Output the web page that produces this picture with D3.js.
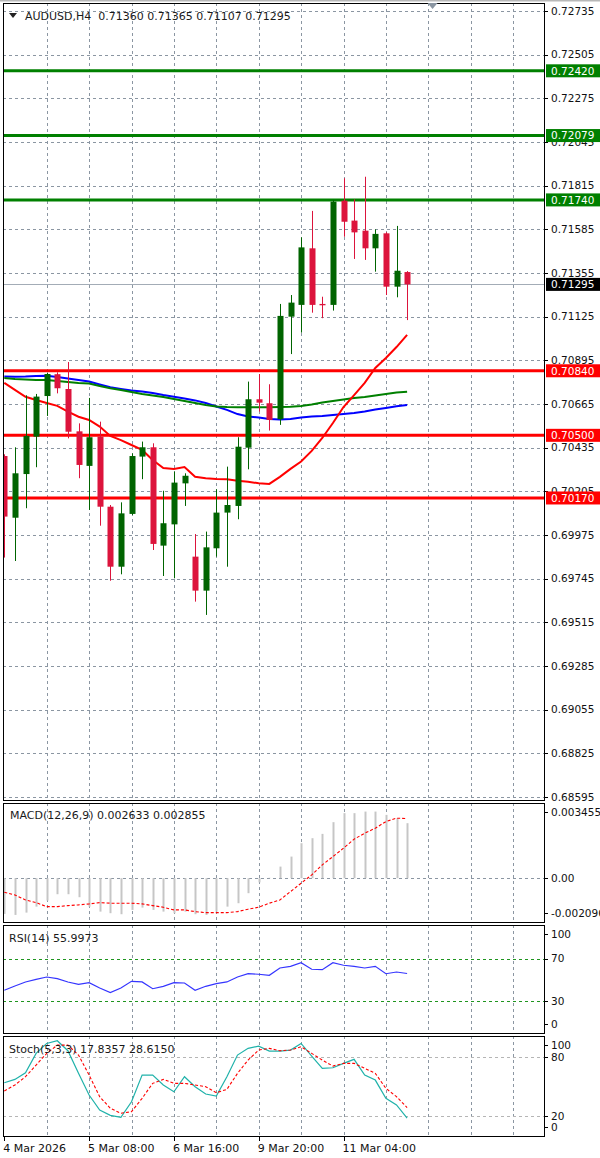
<!DOCTYPE html>
<html>
<head>
<meta charset="utf-8">
<script src="https://cdn.jsdelivr.net/npm/d3@7"></script>
<style>
  html, body { margin: 0; padding: 0; background: #fff; }
  svg { display: block; font-family: "DejaVu Sans", sans-serif; }
</style>
</head>
<body>
<svg id="chart" width="600" height="1158"></svg>
<script>
// AUDUSD H4 candles
const opens  = [0.70391, 0.70066, 0.70296, 0.70493, 0.70707, 0.70822, 0.70744, 0.70521, 0.70339, 0.70493, 0.70124, 0.69808, 0.70086, 0.70388, 0.70437, 0.69919, 0.70031, 0.70247, 0.69861, 0.69682, 0.69905, 0.70093, 0.70128, 0.70435, 0.70690, 0.70669, 0.70585, 0.71125, 0.71187, 0.71485, 0.71192, 0.71187, 0.71736, 0.71631, 0.71578, 0.71485, 0.71564, 0.71283, 0.71360]
const highs  = [0.70400, 0.70437, 0.70711, 0.70718, 0.70830, 0.70832, 0.70886, 0.70563, 0.70697, 0.70572, 0.70133, 0.70147, 0.70405, 0.70467, 0.70458, 0.70208, 0.70309, 0.70300, 0.69980, 0.69993, 0.70216, 0.70335, 0.70490, 0.70783, 0.70823, 0.70769, 0.71192, 0.71239, 0.71543, 0.71682, 0.71230, 0.71740, 0.71854, 0.71743, 0.71862, 0.71585, 0.71570, 0.71603, 0.71365]
const lows   = [0.69856, 0.69838, 0.70116, 0.70332, 0.70602, 0.70721, 0.70484, 0.70274, 0.70107, 0.70024, 0.69734, 0.69768, 0.70080, 0.70269, 0.69896, 0.69759, 0.69747, 0.70128, 0.69624, 0.69554, 0.69861, 0.69808, 0.70058, 0.70321, 0.70625, 0.70525, 0.70555, 0.70928, 0.71041, 0.71146, 0.71117, 0.71157, 0.71546, 0.71429, 0.71424, 0.71362, 0.71239, 0.71227, 0.71107]
const closes = [0.70072, 0.70300, 0.70497, 0.70704, 0.70823, 0.70748, 0.70519, 0.70344, 0.70490, 0.70124, 0.69808, 0.70089, 0.70391, 0.70437, 0.69928, 0.70037, 0.70251, 0.70287, 0.69682, 0.69910, 0.70093, 0.70133, 0.70440, 0.70690, 0.70672, 0.70581, 0.71129, 0.71199, 0.71490, 0.71187, 0.71185, 0.71731, 0.71625, 0.71569, 0.71485, 0.71561, 0.71283, 0.71367, 0.71295]

// moving averages
const maRed   = [0.70776, 0.70739, 0.70703, 0.70686, 0.70670, 0.70655, 0.70625, 0.70598, 0.70581, 0.70546, 0.70497, 0.70475, 0.70449, 0.70423, 0.70370, 0.70328, 0.70323, 0.70333, 0.70282, 0.70274, 0.70270, 0.70268, 0.70261, 0.70256, 0.70247, 0.70244, 0.70281, 0.70323, 0.70362, 0.70418, 0.70486, 0.70565, 0.70649, 0.70712, 0.70776, 0.70855, 0.70907, 0.70965, 0.71029]
const maGreen = [0.70802, 0.70797, 0.70794, 0.70791, 0.70791, 0.70786, 0.70781, 0.70776, 0.70773, 0.70760, 0.70748, 0.70739, 0.70728, 0.70718, 0.70710, 0.70702, 0.70691, 0.70681, 0.70670, 0.70660, 0.70652, 0.70649, 0.70648, 0.70648, 0.70648, 0.70648, 0.70649, 0.70651, 0.70655, 0.70662, 0.70673, 0.70681, 0.70689, 0.70697, 0.70702, 0.70710, 0.70718, 0.70726, 0.70730]
const maBlue  = [0.70810, 0.70809, 0.70810, 0.70813, 0.70814, 0.70807, 0.70799, 0.70791, 0.70783, 0.70768, 0.70753, 0.70744, 0.70736, 0.70731, 0.70723, 0.70712, 0.70703, 0.70694, 0.70684, 0.70670, 0.70652, 0.70634, 0.70612, 0.70599, 0.70594, 0.70586, 0.70584, 0.70586, 0.70594, 0.70599, 0.70602, 0.70607, 0.70612, 0.70618, 0.70626, 0.70636, 0.70644, 0.70653, 0.70660]

// horizontal levels
const greenLevels = [0.72420, 0.72079, 0.71740]
const redLevels = [0.70840, 0.70500, 0.70170]
const lastPrice = 0.71295

// indicators
const macdHist   = [-0.001709, -0.001757, -0.001647, -0.001360, -0.001072, -0.000766, -0.000766, -0.000910, -0.001360, -0.001599, -0.001675, -0.001723, -0.001517, -0.001407, -0.001517, -0.001599, -0.001675, -0.001599, -0.001723, -0.001757, -0.001599, -0.001360, -0.001197, -0.000718, -0.000200, 0.000020, 0.000555, 0.001034, 0.001675, 0.001915, 0.002121, 0.002681, 0.003112, 0.003112, 0.003188, 0.003188, 0.003030, 0.002872, 0.002633]
const macdSignal = [-0.000670, -0.000799, -0.001039, -0.001168, -0.001360, -0.001360, -0.001312, -0.001278, -0.001230, -0.001168, -0.001197, -0.001197, -0.001197, -0.001230, -0.001312, -0.001388, -0.001517, -0.001517, -0.001599, -0.001647, -0.001647, -0.001647, -0.001599, -0.001484, -0.001388, -0.001197, -0.001039, -0.000641, -0.000239, 0.000158, 0.000637, 0.001034, 0.001436, 0.001867, 0.002154, 0.002393, 0.002709, 0.002872, 0.002855]
const rsi    = [40.1, 44.2, 48.0, 50.5, 52.7, 51.1, 48.0, 45.8, 47.3, 42.3, 37.9, 42.3, 48.6, 48.0, 41.6, 43.9, 47.3, 47.0, 40.1, 43.9, 46.4, 48.0, 52.7, 55.8, 55.3, 54.3, 61.2, 62.8, 66.2, 60.0, 59.6, 66.2, 63.8, 62.8, 61.2, 62.8, 55.8, 57.4, 55.9973]
const stochK = [53.7, 57.1, 63.8, 83.4, 93.5, 96.2, 86.1, 63.2, 41.3, 26.1, 20.7, 18.7, 34.5, 61.5, 61.5, 51.4, 44.6, 59.8, 49.7, 42.3, 40.3, 59.8, 81.7, 88.5, 90.8, 85.8, 85.8, 86.8, 93.5, 80.7, 68.3, 68.9, 73.3, 77.4, 61.5, 56.4, 37.9, 31.2, 17.8357]
const stochD = [45.3, 51.4, 59.8, 71.6, 83.4, 91.8, 91.8, 81.7, 61.5, 39.6, 27.8, 22.8, 24.4, 37.9, 53.1, 57.1, 53.1, 53.1, 51.4, 49.7, 43.6, 47.0, 63.2, 76.7, 86.8, 88.5, 86.1, 86.8, 90.1, 83.4, 76.7, 70.6, 73.3, 73.3, 68.3, 63.2, 48.0, 39.6, 28.6150]

// axis ticks
const priceTicks = [0.72735, 0.72505, 0.72275, 0.72045, 0.71815, 0.71585, 0.71355, 0.71125, 0.70895, 0.70665, 0.70435, 0.70205, 0.69975, 0.69745, 0.69515, 0.69285, 0.69055, 0.68825, 0.68595]
const macdTicks = [0.003455, 0, -0.002096]
const macdTickLabels = ['0.003455', '0.00', '-0.002096']
const rsiTicks = [100, 70, 30, 0]
const rsiLevels = [70, 30]
const stochTicks = [100, 80, 20, 0]
const stochLevels = [80, 20]
const dateIdx = [0, 8, 16, 24, 32]
const dateLabels = ['4 Mar 2026', '5 Mar 08:00', '6 Mar 16:00', '9 Mar 20:00', '11 Mar 04:00']

const plotL = 3
const plotR = 544
const panels = {
  main: { top: 3, bottom: 800 },
  macd: { top: 803, bottom: 922 },
  rsi: { top: 925, bottom: 1033 },
  stoch: { top: 1036, bottom: 1136 }
}
const gridColor = '#8b96a2'
const last = closes.length - 1

const svg = d3.select('#chart')
svg.append('rect').attr('width', 600).attr('height', 1158).attr('fill', '#fff')
svg.append('rect').attr('width', 600).attr('height', 1.5).attr('fill', '#b8b8b8')

const x = d3.scaleLinear().domain([0, 48]).range([4.3, 513.1])
const y = d3.scaleLinear().domain([0.68595, 0.72735]).range([797, 11])
const yMacd = d3.scaleLinear().domain([-0.002096, 0.003455]).range([922, 806])
const yRsi = d3.scaleLinear().domain([0, 100]).range([1032.7, 927])
const ySto = d3.scaleLinear().domain([0, 100]).range([1135.8, 1037])

const cx = i => Math.round(x(i)) + 0.5
const crisp = v => Math.round(v) + 0.5

function frame (p, id) {
  svg.append('clipPath').attr('id', id).append('rect')
    .attr('x', plotL).attr('y', p.top)
    .attr('width', plotR - plotL).attr('height', p.bottom - p.top)
  const g = svg.append('g').attr('clip-path', `url(#${id})`)
  g.append('g').selectAll('line').data(d3.range(4, 49, 4)).join('line')
    .attr('x1', cx).attr('x2', cx)
    .attr('y1', p.top).attr('y2', p.bottom)
    .attr('stroke', gridColor).attr('stroke-dasharray', '3,3')
  return g
}

function border (p) {
  svg.append('rect')
    .attr('x', plotL + 0.5).attr('y', p.top + 0.5)
    .attr('width', plotR - plotL).attr('height', p.bottom - p.top)
    .attr('fill', 'none').attr('stroke', '#000').attr('stroke-width', 1)
}

function rightAxis (p, scale, ticks, labels, clamp) {
  const pos = v => {
    const yy = scale(v)
    return clamp ? Math.max(p.top + 9, Math.min(p.bottom - 9, yy)) : yy
  }
  const g = svg.append('g')
  g.selectAll('line').data(ticks).join('line')
    .attr('x1', plotR).attr('x2', plotR + 4)
    .attr('y1', d => crisp(pos(d))).attr('y2', d => crisp(pos(d)))
    .attr('stroke', '#000')
  g.selectAll('text').data(ticks).join('text')
    .attr('x', 551).attr('y', d => pos(d)).attr('dy', '0.36em')
    .attr('font-size', '10.5px').attr('fill', '#111')
    .text((d, i) => labels[i])
}

function title (txt, xx, yy, size) {
  svg.append('text').attr('x', xx).attr('y', yy)
    .attr('font-size', size || '11px').attr('fill', '#1a1a1a')
    .style('white-space', 'pre')
    .text(txt)
}

// ---------- main panel ----------
const pm = panels.main
const gm = frame(pm, 'clipMain')

gm.append('g').selectAll('line').data(priceTicks).join('line')
  .attr('x1', plotL).attr('x2', plotR)
  .attr('y1', d => crisp(y(d))).attr('y2', d => crisp(y(d)))
  .attr('stroke', gridColor).attr('stroke-dasharray', '3,3')

gm.append('line')
  .attr('x1', plotL).attr('x2', plotR)
  .attr('y1', crisp(y(lastPrice))).attr('y2', crisp(y(lastPrice)))
  .attr('stroke', '#a3acb6')

const maLine = d3.line().x((d, i) => x(i)).y(d => y(d))
;[[maBlue, '#0000ff'], [maGreen, '#008000'], [maRed, '#ff0000']].forEach(([s, c]) => {
  gm.append('path').datum(s).attr('d', maLine)
    .attr('fill', 'none').attr('stroke', c).attr('stroke-width', 2)
})

const levelLines = greenLevels.map(v => ({ v, c: '#008000' }))
  .concat(redLevels.map(v => ({ v, c: '#ff0000' })))
gm.append('g').selectAll('line').data(levelLines).join('line')
  .attr('x1', plotL).attr('x2', plotR)
  .attr('y1', d => y(d.v)).attr('y2', d => y(d.v))
  .attr('stroke', d => d.c).attr('stroke-width', 3)

const candles = opens.map((o, i) => ({ i, o, h: highs[i], l: lows[i], c: closes[i] }))
const colorOf = d => d.c >= d.o ? '#006400' : '#dc143c'
gm.append('g').selectAll('line').data(candles).join('line')
  .attr('x1', d => cx(d.i)).attr('x2', d => cx(d.i))
  .attr('y1', d => y(d.h)).attr('y2', d => y(d.l))
  .attr('stroke', colorOf).attr('stroke-width', 1)
gm.append('g').selectAll('rect').data(candles).join('rect')
  .attr('x', d => cx(d.i) - 3).attr('width', 6)
  .attr('y', d => y(Math.max(d.o, d.c)))
  .attr('height', d => Math.max(1.2, Math.abs(y(d.o) - y(d.c))))
  .attr('fill', colorOf)

border(pm)
rightAxis(pm, y, priceTicks, priceTicks.map(d => d.toFixed(5)), false)

// level labels on the price axis
const tags = levelLines.map(d => ({ v: d.v, fill: d.c }))
  .concat([{ v: lastPrice, fill: '#000' }])
const tg = svg.append('g').selectAll('g').data(tags).join('g')
tg.append('rect')
  .attr('x', 546).attr('width', 54)
  .attr('y', d => y(d.v) - 6.5).attr('height', 13)
  .attr('fill', d => d.fill)
tg.append('text')
  .attr('x', 551).attr('y', d => y(d.v)).attr('dy', '0.36em')
  .attr('font-size', '10.5px').attr('fill', '#fff')
  .text(d => d.v.toFixed(5))

// header and chart shift marker
svg.append('path')
  .attr('d', d3.line()([[9, 13], [17, 13], [13, 18]]) + 'Z')
  .attr('fill', '#222')
title(`AUDUSD,H4  ${opens[last].toFixed(5)} ${highs[last].toFixed(5)} ${lows[last].toFixed(5)} ${closes[last].toFixed(5)}`, 25, 20)
const shiftX = x(40.4)
svg.append('path')
  .attr('d', d3.line()([[shiftX - 5, 3], [shiftX + 5, 3], [shiftX, 9]]) + 'Z')
  .attr('fill', '#8b96a2')

// ---------- MACD ----------
const pc = panels.macd
const gc = frame(pc, 'clipMacd')
gc.append('line')
  .attr('x1', plotL).attr('x2', plotR)
  .attr('y1', crisp(yMacd(0))).attr('y2', crisp(yMacd(0)))
  .attr('stroke', gridColor).attr('stroke-dasharray', '3,3')
gc.append('g').selectAll('line').data(macdHist).join('line')
  .attr('x1', (d, i) => cx(i)).attr('x2', (d, i) => cx(i))
  .attr('y1', yMacd(0)).attr('y2', d => yMacd(d))
  .attr('stroke', '#c6c6c6').attr('stroke-width', 2)
gc.append('path').datum(macdSignal)
  .attr('d', d3.line().x((d, i) => x(i)).y(d => yMacd(d)))
  .attr('fill', 'none').attr('stroke', '#ff0000').attr('stroke-width', 1.1)
  .attr('stroke-dasharray', '3,2')
border(pc)
rightAxis(pc, yMacd, macdTicks, macdTickLabels, true)
title(`MACD(12,26,9) ${macdHist[last].toFixed(6)} ${macdSignal[last].toFixed(6)}`, 10, 819)

// ---------- RSI ----------
const pr = panels.rsi
const gr = frame(pr, 'clipRsi')
gr.append('g').selectAll('line').data(rsiLevels).join('line')
  .attr('x1', plotL).attr('x2', plotR)
  .attr('y1', d => crisp(yRsi(d))).attr('y2', d => crisp(yRsi(d)))
  .attr('stroke', '#1f951f').attr('stroke-dasharray', '3,3')
gr.append('path').datum(rsi)
  .attr('d', d3.line().x((d, i) => x(i)).y(d => yRsi(d)))
  .attr('fill', 'none').attr('stroke', '#3535ff').attr('stroke-width', 1.2)
border(pr)
rightAxis(pr, yRsi, rsiTicks, rsiTicks.map(String), true)
title(`RSI(14) ${rsi[last].toFixed(4)}`, 9, 942)

// ---------- Stochastic ----------
const ps = panels.stoch
const gs = frame(ps, 'clipSto')
gs.append('g').selectAll('line').data(stochLevels).join('line')
  .attr('x1', plotL).attr('x2', plotR)
  .attr('y1', d => crisp(ySto(d))).attr('y2', d => crisp(ySto(d)))
  .attr('stroke', '#b5b5b5').attr('stroke-dasharray', '3,3')
gs.append('path').datum(stochK)
  .attr('d', d3.line().x((d, i) => x(i)).y(d => ySto(d)))
  .attr('fill', 'none').attr('stroke', '#20b2aa').attr('stroke-width', 1.2)
gs.append('path').datum(stochD)
  .attr('d', d3.line().x((d, i) => x(i)).y(d => ySto(d)))
  .attr('fill', 'none').attr('stroke', '#ff0000').attr('stroke-width', 1.1)
  .attr('stroke-dasharray', '3,2')
border(ps)
rightAxis(ps, ySto, stochTicks, stochTicks.map(String), true)
title(`Stoch(5,3,3) ${stochK[last].toFixed(4)} ${stochD[last].toFixed(4)}`, 9, 1053)

// ---------- time axis ----------
const ta = svg.append('g')
ta.selectAll('line').data(dateIdx).join('line')
  .attr('x1', cx).attr('x2', cx)
  .attr('y1', ps.bottom).attr('y2', ps.bottom + 5)
  .attr('stroke', '#000')
ta.selectAll('text').data(dateIdx).join('text')
  .attr('x', d => x(d) - 1).attr('y', 1152)
  .attr('font-size', '11px').attr('fill', '#111')
  .text((d, i) => dateLabels[i])
</script>
</body>
</html>
